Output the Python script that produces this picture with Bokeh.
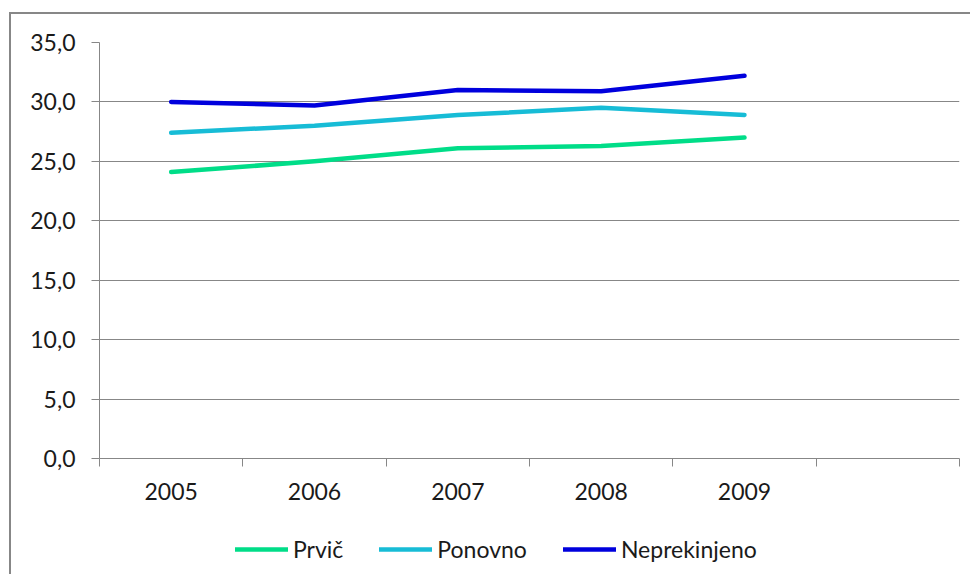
from bokeh.plotting import figure
from bokeh.models import FixedTicker, Legend, LegendItem, Range1d
from bokeh.layouts import column
from bokeh.embed import file_html
from bokeh.resources import INLINE

years = ["2005", "2006", "2007", "2008", "2009"]
prvic = [24.1, 25.0, 26.1, 26.3, 27.0]
ponovno = [27.4, 28.0, 28.9, 29.5, 28.9]
neprekinjeno = [30.0, 29.7, 31.0, 30.9, 32.2]
series_names = ["Prvič", "Ponovno", "Neprekinjeno"]
series_colors = ["#00DD88", "#17BCD6", "#0000DD"]
y_ticks = [0, 5, 10, 15, 20, 25, 30, 35]

n_slots = len(years) + 1  # one empty category slot on the right, as in the original
xs = [i + 0.5 for i in range(len(years))]
series = [prvic, ponovno, neprekinjeno]

FONT = "Lato"
GRAY = "#878787"
TXT = "#1a1a1a"

p = figure(width=959, height=500, output_backend="svg", toolbar_location=None,
           x_range=Range1d(0, n_slots), y_range=Range1d(0, 35),
           min_border_left=88, min_border_right=11, min_border_top=28, min_border_bottom=56)
p.outline_line_color = None
p.background_fill_color = "white"
p.border_fill_color = "white"

# x axis: labels at category centres, tick marks at category boundaries
p.xaxis.ticker = FixedTicker(ticks=xs, minor_ticks=list(range(n_slots + 1)))
p.xaxis.major_label_overrides = {x: y for x, y in zip(xs, years)}
p.xaxis.major_tick_out = 0
p.xaxis.major_tick_in = 0
p.xaxis.minor_tick_out = 8
p.xaxis.minor_tick_in = 0
p.xaxis.minor_tick_line_color = GRAY
p.xaxis.axis_line_color = GRAY
p.xaxis.major_label_text_font = FONT
p.xaxis.major_label_text_font_size = "23px"
p.xaxis.major_label_text_color = TXT
p.xaxis.major_label_standoff = 16

p.yaxis.ticker = FixedTicker(ticks=y_ticks, minor_ticks=[])
p.yaxis.major_label_overrides = {t: f"{t:.1f}".replace(".", ",") for t in y_ticks}
p.yaxis.major_tick_out = 8
p.yaxis.major_tick_in = 0
p.yaxis.major_tick_line_color = GRAY
p.yaxis.axis_line_color = GRAY
p.yaxis.major_label_text_font = FONT
p.yaxis.major_label_text_font_size = "23px"
p.yaxis.major_label_text_color = TXT
p.yaxis.major_label_standoff = 16

p.xgrid.visible = False
p.ygrid.grid_line_color = GRAY
p.ygrid.grid_line_width = 1

for vals, col in zip(series, series_colors):
    p.line(xs, vals, line_color=col, line_width=4.5, line_cap="round", line_join="round")

# legend strip below the plot (its lines lie outside its visible range; only the legend shows)
lp = figure(width=959, height=60, output_backend="svg", toolbar_location=None,
            x_axis_type=None, y_axis_type=None,
            x_range=Range1d(100, 101), y_range=Range1d(100, 101),
            min_border_left=0, min_border_right=0, min_border_top=0, min_border_bottom=0)
lp.outline_line_color = None
lp.xgrid.visible = False
lp.ygrid.visible = False
lp.border_fill_color = "white"
lp.background_fill_color = "white"
leg_renderers = [lp.line(xs, vals, line_color=c, line_width=4.5, line_cap="round")
                 for vals, c in zip(series, series_colors)]

legend = Legend(items=[LegendItem(label=n, renderers=[r]) for n, r in zip(series_names, leg_renderers)],
                orientation="horizontal", location=(136, 11),
                glyph_width=53, glyph_height=24, label_standoff=5, spacing=36,
                padding=0, margin=0, border_line_alpha=0, background_fill_alpha=0,
                label_text_font=FONT, label_text_font_size="23px", label_text_color=TXT)
lp.add_layout(legend, "center")

layout = column(p, lp, spacing=0)
layout.styles = {"margin-left": "9px", "margin-top": "12px",
                 "border-left": f"2px solid {GRAY}", "border-top": f"2px solid {GRAY}"}

open("out.html", "w").write(file_html(layout, INLINE))
